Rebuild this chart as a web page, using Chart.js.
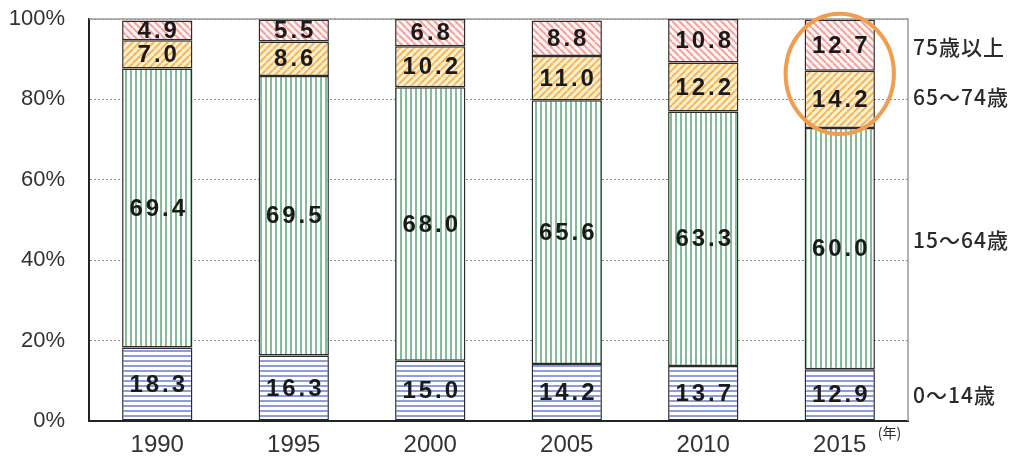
<!DOCTYPE html>
<html>
<head>
<meta charset="utf-8">
<script src="https://cdn.jsdelivr.net/npm/chart.js@4"></script>
<style>
  html, body { margin: 0; padding: 0; background: #fff; }
  #wrap { width: 1018px; height: 463px; }
</style>
</head>
<body>
<div id="wrap"><canvas id="chart" width="1018" height="463"></canvas></div>
<script>
// data (percent of population)
const years = ['1990', '1995', '2000', '2005', '2010', '2015'];
const age0to14 = [18.3, 16.3, 15.0, 14.2, 13.7, 12.9];
const age15to64 = [69.4, 69.5, 68.0, 65.6, 63.3, 60.0];
const age65to74 = [7.0, 8.6, 10.2, 11.0, 12.2, 14.2];
const age75up = [4.9, 5.5, 6.8, 8.8, 10.8, 12.7];
const groupNames = ['0～14歳', '15～64歳', '65～74歳', '75歳以上'];
const yTicks = [0, 20, 40, 60, 80, 100];

// make a fill pattern from a small tile
function makePattern(size, draw) {
  const tile = document.createElement('canvas');
  tile.width = size;
  tile.height = size;
  const c = tile.getContext('2d');
  draw(c, size);
  return document.getElementById('chart').getContext('2d').createPattern(tile, 'repeat');
}

const blueLines = makePattern(5, (c, s) => {
  c.fillStyle = '#ffffff';
  c.fillRect(0, 0, s, s);
  c.fillStyle = '#8d9cdb';
  c.fillRect(0, 0, s, 2);
});

const greenLines = makePattern(5, (c, s) => {
  c.fillStyle = '#ffffff';
  c.fillRect(0, 0, s, s);
  c.fillStyle = '#86bb9a';
  c.fillRect(0, 0, 2, s);
});

function diagonal(bg, fg, flip) {
  return makePattern(7, (c, s) => {
    c.fillStyle = bg;
    c.fillRect(0, 0, s, s);
    c.strokeStyle = fg;
    c.lineWidth = 2;
    c.beginPath();
    for (let k = -1; k <= 1; k++) {
      if (flip) {
        c.moveTo(k * s, 0);
        c.lineTo(k * s + s, s);
      } else {
        c.moveTo(k * s, s);
        c.lineTo(k * s + s, 0);
      }
    }
    c.stroke();
  });
}

const orangeLines = diagonal('#fdf0d2', '#f2b858', false);
const redLines = diagonal('#fff6f4', '#f2a2a0', true);

// labels inside each segment, the side labels, frame and the circle
const extras = {
  id: 'extras',
  beforeDatasetsDraw(chart) {
    const { ctx, chartArea: a } = chart;
    ctx.save();
    ctx.strokeStyle = '#9a9a9a';
    ctx.lineWidth = 1.5;
    ctx.beginPath();
    ctx.moveTo(a.left, a.top);
    ctx.lineTo(a.right, a.top);
    ctx.lineTo(a.right, a.bottom);
    ctx.stroke();
    ctx.restore();
  },
  afterDatasetsDraw(chart) {
    const { ctx, chartArea: a } = chart;
    ctx.save();
    ctx.fillStyle = '#1a1a1a';
    ctx.font = 'bold 24px "Liberation Sans", Arial, sans-serif';
    ctx.letterSpacing = '3px';
    ctx.textAlign = 'center';
    ctx.textBaseline = 'middle';
    chart.data.datasets.forEach((ds, i) => {
      chart.getDatasetMeta(i).data.forEach((bar, j) => {
        ctx.fillText(ds.data[j].toFixed(1), bar.x + 1.5, (bar.y + bar.base) / 2 + 1);
      });
    });

    // group names to the right of the last bar
    ctx.font = '500 21px "Noto Sans CJK JP", sans-serif';
    ctx.letterSpacing = '1px';
    ctx.textAlign = 'left';
    ctx.fillStyle = '#2a2a2a';
    const last = years.length - 1;
    const nudge = [0, -9, -2, 2];
    chart.data.datasets.forEach((ds, i) => {
      const bar = chart.getDatasetMeta(i).data[last];
      ctx.fillText(ds.label, a.right + 5, (bar.y + bar.base) / 2 + nudge[i]);
    });

    // year unit
    ctx.font = '14px "Noto Sans CJK JP", sans-serif';
    ctx.letterSpacing = '0px';
    const lastBar = chart.getDatasetMeta(0).data[last];
    ctx.fillText('(年)', lastBar.x + 38, a.bottom + 12);

    // circle round the elderly share of 2015
    const top = chart.getDatasetMeta(3).data[last];
    const low = chart.getDatasetMeta(2).data[last];
    const cy = (top.y + low.base) / 2;
    const ry = (low.base - top.y) / 2 + 6;
    const rx = top.width / 2 + 19;
    ctx.strokeStyle = '#ef9d4f';
    ctx.lineWidth = 4;
    ctx.beginPath();
    ctx.ellipse(top.x, cy, rx, ry, 0, 0, Math.PI * 2);
    ctx.stroke();
    ctx.restore();
  }
};

const datasetFills = [blueLines, greenLines, orangeLines, redLines];
const seriesValues = [age0to14, age15to64, age65to74, age75up];

const chartData = {
  labels: years,
  datasets: seriesValues.map((vals, i) => ({
    label: groupNames[i],
    data: vals,
    backgroundColor: datasetFills[i],
    borderColor: '#2b2b2b',
    borderWidth: 1.5,
    borderSkipped: false,
    barPercentage: 0.515,
    categoryPercentage: 1
  }))
};

const chartOptions = {
  responsive: false,
  animation: false,
  layout: {
    padding: { top: 19, right: 110, left: 0, bottom: 0 }
  },
  scales: {
    x: {
      stacked: true,
      grid: { display: false, drawTicks: false },
      border: { display: true, color: '#222', width: 2 },
      ticks: {
        padding: 10,
        color: '#333',
        font: { size: 24, family: '"Liberation Sans", Arial, sans-serif' }
      },
      afterFit(scale) { scale.height = 42; }
    },
    y: {
      stacked: true,
      min: 0,
      max: 100,
      afterBuildTicks(scale) { scale.ticks = yTicks.map(v => ({ value: v })); },
      grid: { color: '#8a8a8a', lineWidth: 1, drawTicks: false },
      border: { display: true, color: '#222', width: 2, dash: [2, 2] },
      ticks: {
        padding: 24,
        color: '#333',
        font: { size: 22, family: '"Liberation Sans", Arial, sans-serif' },
        callback: v => v + '%'
      },
      afterFit(scale) {
        scale.width = 89;
        scale.paddingTop = 0;
        scale.paddingBottom = 0;
      }
    }
  },
  plugins: {
    legend: { display: false },
    tooltip: { enabled: false }
  }
};

new Chart(document.getElementById('chart'), {
  type: 'bar',
  data: chartData,
  options: chartOptions,
  plugins: [extras]
});
</script>
</body>
</html>
